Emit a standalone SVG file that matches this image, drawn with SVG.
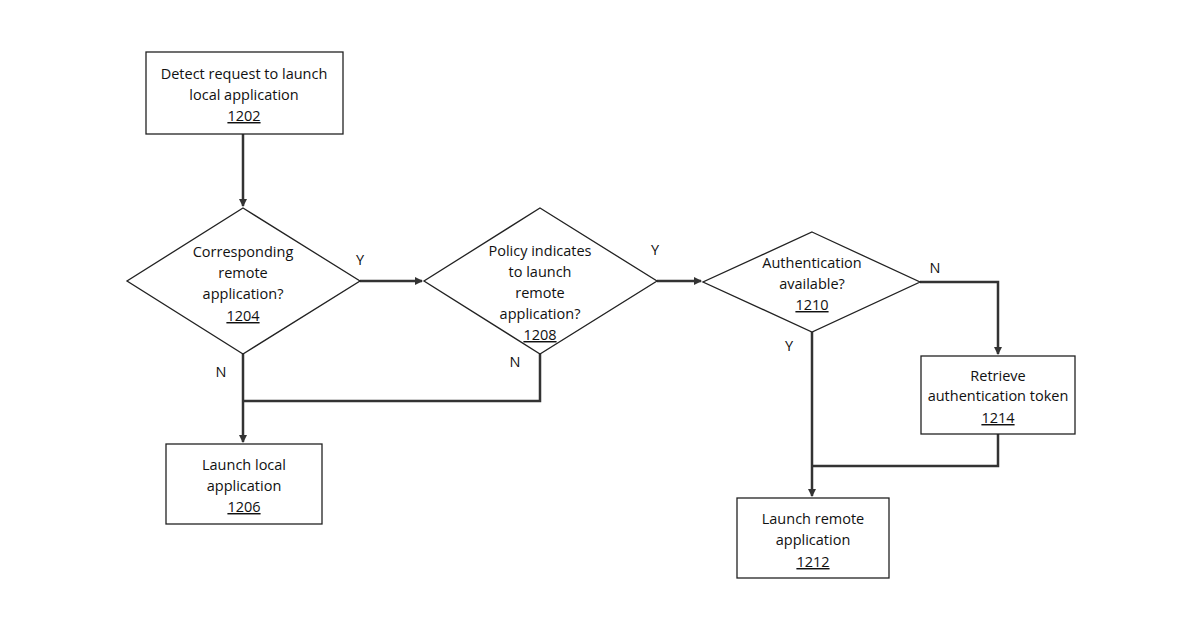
<svg xmlns="http://www.w3.org/2000/svg" width="1200" height="630" viewBox="0 0 1200 630">
<style>
.s{fill:#fff;stroke:#222;stroke-width:1.3}
.c{fill:none;stroke:#333;stroke-width:2.5}
text{font-family:"Open Sans","Liberation Sans",sans-serif;font-size:14.5px;fill:#111;text-anchor:middle}
.u{text-decoration:underline}
</style>
<defs><marker id="a" markerWidth="8" markerHeight="8" refX="7" refY="4" orient="auto" markerUnits="userSpaceOnUse"><path d="M0,0L8,4L0,8z" fill="#333"/></marker></defs>
<rect width="1200" height="630" fill="#fff"/>
<g id="connectors">
<path class="c" d="M243,134V206" marker-end="url(#a)"/>
<path class="c" d="M360,281H422" marker-end="url(#a)"/>
<path class="c" d="M657,281H701" marker-end="url(#a)"/>
<path class="c" d="M920,282H998V354" marker-end="url(#a)"/>
<path class="c" d="M998,434V466H812"/>
<path class="c" d="M812,332V496" marker-end="url(#a)"/>
<path class="c" d="M243,354V442" marker-end="url(#a)"/>
<path class="c" d="M540,354V401H243"/>
<text x="360" y="265">Y</text><text x="655" y="255">Y</text><text x="935" y="273">N</text>
<text x="789" y="351">Y</text><text x="221" y="377">N</text><text x="515" y="367">N</text>
</g>
<g id="n1202"><rect class="s" x="146" y="52" width="197" height="82"/><text x="244" y="79">Detect request to launch</text><text x="244" y="100">local application</text><text x="244" y="121" class="u">1202</text></g>
<g id="n1204"><path class="s" d="M243,208L360,281L243,354L127,281z"/><text x="243" y="257">Corresponding</text><text x="243" y="278">remote</text><text x="243" y="299">application?</text><text x="243" y="321" class="u">1204</text></g>
<g id="n1208"><path class="s" d="M540,208L657,281L540,354L424,281z"/><text x="540" y="256">Policy indicates</text><text x="540" y="277">to launch</text><text x="540" y="298">remote</text><text x="540" y="319">application?</text><text x="540" y="340" class="u">1208</text></g>
<g id="n1210"><path class="s" d="M812,232L920,282L812,332L703,282z"/><text x="812" y="268">Authentication</text><text x="812" y="289">available?</text><text x="812" y="310" class="u">1210</text></g>
<g id="n1214"><rect class="s" x="921" y="356" width="154" height="78"/><text x="998" y="381">Retrieve</text><text x="998" y="401">authentication token</text><text x="998" y="423" class="u">1214</text></g>
<g id="n1206"><rect class="s" x="166" y="444" width="156" height="80"/><text x="244" y="470">Launch local</text><text x="244" y="491">application</text><text x="244" y="512" class="u">1206</text></g>
<g id="n1212"><rect class="s" x="737" y="498" width="152" height="80"/><text x="813" y="524">Launch remote</text><text x="813" y="545">application</text><text x="813" y="567" class="u">1212</text></g>
</svg>
